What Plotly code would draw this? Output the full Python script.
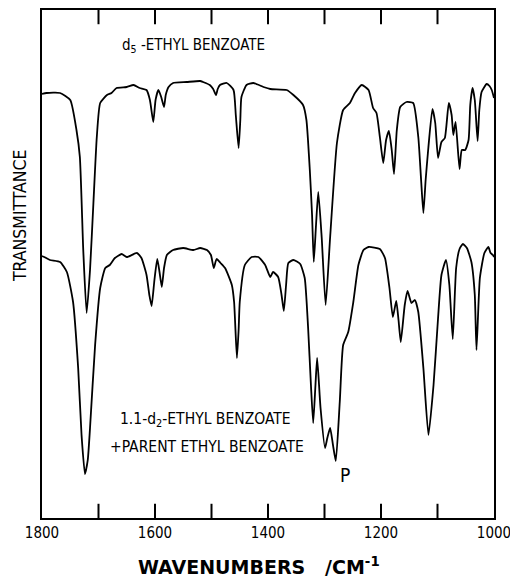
import plotly.graph_objects as go

# d5-ethyl benzoate (upper trace): wavenumber (cm-1) and transmittance (arbitrary units)
wn_d5 = [1800, 1792, 1768, 1750, 1739, 1733, 1727, 1721, 1715, 1709, 1703, 1697, 1685, 1677,
         1668, 1650, 1638, 1627, 1615, 1609, 1603, 1599, 1594, 1589, 1584, 1581, 1576, 1568,
         1544, 1520, 1515, 1503, 1497, 1492, 1489, 1485, 1473, 1461, 1457, 1452, 1449, 1447,
         1438, 1426, 1408, 1396, 1367, 1355, 1338, 1332, 1326, 1322, 1319, 1315, 1311, 1305,
         1298, 1290, 1278, 1267, 1255, 1246, 1234, 1222, 1214, 1208, 1202, 1196, 1191, 1186,
         1181, 1177, 1172, 1166, 1155, 1143, 1134, 1129, 1125, 1121, 1117, 1109, 1104, 1099,
         1093, 1087, 1080, 1075, 1072, 1068, 1061, 1057, 1051, 1045, 1042, 1038, 1034, 1029,
         1026, 1022, 1013, 1008, 1004, 1000]
t_d5 = [424, 425, 425, 418, 388, 361, 268, 205, 248, 315, 381, 415, 423, 425,
        430, 431, 433, 430, 428, 418, 396, 418, 428, 421, 411, 423, 431, 435,
        436, 437, 436, 433, 429, 423, 429, 433, 435, 428, 403, 370, 398, 421,
        433, 435, 431, 429, 428, 423, 413, 398, 348, 303, 256, 293, 326, 281,
        213, 281, 375, 408, 415, 425, 433, 428, 410, 405, 381, 355, 378, 387,
        368, 344, 388, 411, 416, 415, 381, 338, 305, 338, 365, 409, 395, 360,
        376, 380, 415, 403, 383, 396, 349, 368, 368, 378, 413, 430, 418, 377,
        408, 426, 434, 432, 428, 420]

# 1,1-d2-ethyl benzoate + parent ethyl benzoate (lower trace)
wn_d2 = [1800, 1796, 1786, 1768, 1756, 1745, 1736, 1730, 1724, 1719, 1715, 1706, 1697, 1688,
         1680, 1671, 1659, 1650, 1632, 1624, 1615, 1610, 1606, 1601, 1596, 1592, 1588, 1584,
         1579, 1568, 1550, 1532, 1520, 1508, 1501, 1496, 1491, 1484, 1476, 1464, 1460, 1455,
         1452, 1450, 1441, 1429, 1417, 1405, 1396, 1391, 1382, 1376, 1372, 1368, 1364, 1355,
         1343, 1335, 1329, 1324, 1320, 1316, 1313, 1307, 1299, 1295, 1290, 1285, 1280, 1273,
         1267, 1258, 1249, 1240, 1231, 1222, 1202, 1193, 1185, 1179, 1173, 1169, 1165, 1158,
         1153, 1146, 1140, 1134, 1125, 1116, 1107, 1099, 1093, 1085, 1079, 1073, 1067, 1061,
         1055, 1048, 1040, 1034, 1031, 1025, 1017, 1010, 1006, 1002, 1000]
t_d2 = [262, 261, 258, 256, 246, 216, 150, 83, 44, 58, 90, 173, 230, 250,
        253, 260, 264, 261, 265, 260, 243, 223, 212, 238, 259, 246, 231, 250,
        263, 268, 270, 268, 270, 268, 263, 250, 259, 255, 250, 233, 216, 160,
        188, 216, 253, 261, 261, 253, 241, 246, 241, 223, 207, 233, 255, 258,
        254, 240, 190, 133, 95, 133, 160, 110, 70, 80, 90, 73, 57, 116,
        173, 186, 216, 253, 268, 271, 269, 260, 230, 201, 217, 198, 176, 213,
        227, 215, 218, 206, 150, 83, 133, 200, 243, 258, 233, 179, 250, 269,
        274, 270, 256, 223, 168, 240, 265, 271, 265, 263, 261]

x_ticks = [1800, 1600, 1400, 1200, 1000]
x_tick_text = ["1800", "1600", "1400", "1200", "1000"]
x_tick_marks = [1700, 1600, 1500, 1400, 1300, 1200, 1100]

y_range = [0, 508]
tick_frac = 0.028  # tick length as a fraction of the plot height

label_font = "DejaVu Sans Condensed, Liberation Sans, Arial, sans-serif"

fig = go.Figure()
for wn, t in [(wn_d5, t_d5), (wn_d2, t_d2)]:
    fig.add_trace(go.Scatter(x=wn, y=t, mode="lines",
                             line=dict(color="black", width=1.8, shape="spline", smoothing=0.5),
                             showlegend=False, hoverinfo="skip"))

# inside tick marks on the bottom and top frame edges, placed at the tick values
for v in x_tick_marks:
    for y0, y1 in [(0, tick_frac), (1, 1 - tick_frac)]:
        fig.add_shape(type="line", xref="x", yref="y domain", x0=v, x1=v, y0=y0, y1=y1,
                      line=dict(color="black", width=2), layer="above")

fig.update_layout(
    width=510, height=578,
    margin=dict(l=42, r=16, t=10, b=60, autoexpand=False),
    paper_bgcolor="white", plot_bgcolor="white",
    font=dict(family=label_font, color="black", size=15),
)
fig.update_xaxes(
    range=[1800, 1000], tickvals=x_ticks, ticktext=x_tick_text, ticks="",
    showline=True, linecolor="black", linewidth=1.8, mirror=True,
    showgrid=False, zeroline=False, ticklabeloverflow="allow", automargin=False,
    tickfont=dict(family=label_font, size=15, color="black"),
)
fig.update_yaxes(
    range=y_range, showticklabels=False, ticks="", automargin=False,
    showline=True, linecolor="black", linewidth=1.8, mirror=True,
    showgrid=False, zeroline=False,
)

annots = [
    dict(x=1662, y=473, text="d<sub>5</sub> -ETHYL BENZOATE", xanchor="left", size=15),
    dict(x=1666, y=98, text="1.1-d<sub>2</sub>-ETHYL BENZOATE", xanchor="left", size=15.5),
    dict(x=1683, y=71, text="+PARENT ETHYL BENZOATE", xanchor="left", size=15.5),
    dict(x=1264, y=43, text="P", xanchor="center", size=19),
]
for a in annots:
    size = a.pop("size")
    fig.add_annotation(xref="x", yref="y", showarrow=False, yanchor="middle",
                       font=dict(family=label_font, size=size, color="black"), **a)

fig.add_annotation(xref="paper", yref="paper", x=0.48, y=-0.094, showarrow=False,
                   text="<b>WAVENUMBERS&nbsp;&nbsp;&nbsp;/CM<sup>-1</sup></b>",
                   xanchor="center", yanchor="middle",
                   font=dict(family="DejaVu Sans, Liberation Sans, Arial, sans-serif",
                             size=19, color="black"))
fig.add_annotation(xref="paper", yref="paper", x=-0.049, y=0.596, showarrow=False,
                   text="TRANSMITTANCE", textangle=-90, xanchor="center", yanchor="middle",
                   font=dict(family=label_font, size=17.5, color="black"))

fig.write_html("out.html", config={"displayModeBar": False},
               post_script="document.body.style.margin='0';")
